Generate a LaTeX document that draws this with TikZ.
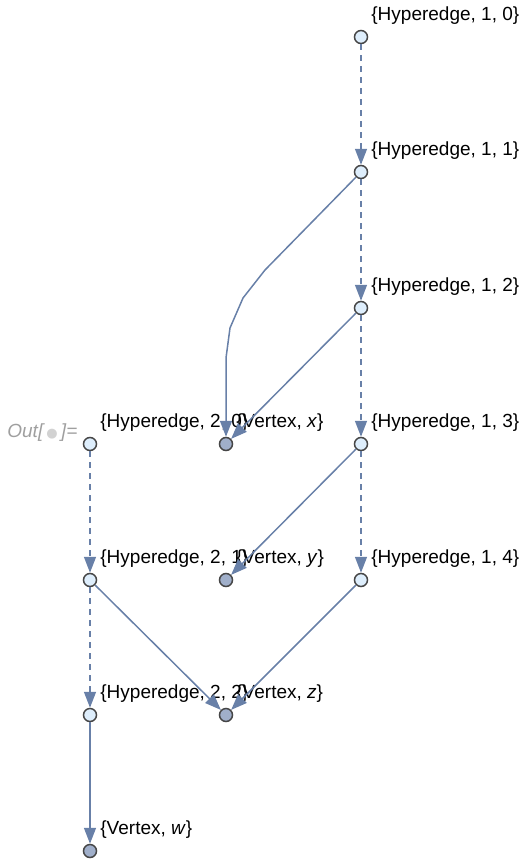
\documentclass[tikz,border=0pt]{standalone}
\usepackage{fontspec}
\setmainfont{Liberation Sans}
\newfontfamily\dejavu{DejaVu Sans}
\usetikzlibrary{arrows.meta}
\definecolor{edgec}{RGB}{104,128,168}
\definecolor{hypc}{RGB}{222,238,252}
\definecolor{vertc}{RGB}{160,175,202}
\definecolor{borderc}{RGB}{70,70,70}
\tikzset{
  hnode/.style={circle,draw=borderc,line width=0.75pt,fill=hypc,inner sep=0pt,minimum size=6.5pt},
  vnode/.style={circle,draw=borderc,line width=0.75pt,fill=vertc,inner sep=0pt,minimum size=6.5pt},
  lab/.style={anchor=base west,inner sep=0pt,font=\fontsize{9.5}{11}\selectfont},
  edge/.style={draw=edgec,line width=0.75pt,-{Triangle[length=8pt,width=6pt,fill=edgec]}},
  dedge/.style={edge,dash pattern=on 3pt off 2.5pt},
}
\begin{document}
\begin{tikzpicture}[x=0.5pt,y=-0.5pt]
\useasboundingbox (0,0) rectangle (531,864);
% nodes
\node[hnode] (h10) at (361,37) {};
\node[hnode] (h11) at (361,172) {};
\node[hnode] (h12) at (361,308) {};
\node[hnode] (h13) at (361,444) {};
\node[hnode] (h14) at (361,580) {};
\node[hnode] (h20) at (90,444) {};
\node[hnode] (h21) at (90,580) {};
\node[hnode] (h22) at (90,715) {};
\node[vnode] (vx) at (226,444) {};
\node[vnode] (vy) at (226,580) {};
\node[vnode] (vz) at (226,715) {};
\node[vnode] (vw) at (90,851) {};
% labels
\node[lab] (l10) at (371,20) {\{Hyperedge, 1, 0\}};
\node[lab] (l11) at (371,155) {\{Hyperedge, 1, 1\}};
\node[lab] (l12) at (371,291) {\{Hyperedge, 1, 2\}};
\node[lab] (l13) at (371,427) {\{Hyperedge, 1, 3\}};
\node[lab] (l14) at (371,563) {\{Hyperedge, 1, 4\}};
\node[lab] (l20) at (100,427) {\{Hyperedge, 2, 0\}};
\node[lab] (l21) at (100,563) {\{Hyperedge, 2, 1\}};
\node[lab] (l22) at (100,698) {\{Hyperedge, 2, 2\}};
\node[lab] (lx) at (236,427) {\{Vertex, \textit{x}\}};
\node[lab] (ly) at (236,563) {\{Vertex, \textit{y}\}};
\node[lab] (lz) at (236,698) {\{Vertex, \textit{z}\}};
\node[lab] (lw) at (100,834) {\{Vertex, \textit{w}\}};
\node[lab,text=gray!75,font=\fontsize{9.5}{11}\selectfont\itshape] (out) at (7,437) {Out[\,{\dejavu\fontsize{6.5}{7}\selectfont\textcolor{gray!35}{●}}\,]=};
% edges
\draw[dedge] (h10) -- (h11);
\draw[dedge] (h11) -- (h12);
\draw[dedge] (h12) -- (h13);
\draw[dedge] (h13) -- (h14);
\draw[dedge] (h20) -- (h21);
\draw[dedge] (h21) -- (h22);
\draw[edge] (h11) -- (265,270) -- (243,298) -- (230,328) -- (226,358) -- (vx);
\draw[edge] (h12) -- (vx);
\draw[edge] (h13) -- (vy);
\draw[edge] (h14) -- (vz);
\draw[edge] (h21) -- (vz);
\draw[edge] (h22) -- (vw);
\end{tikzpicture}
\end{document}
